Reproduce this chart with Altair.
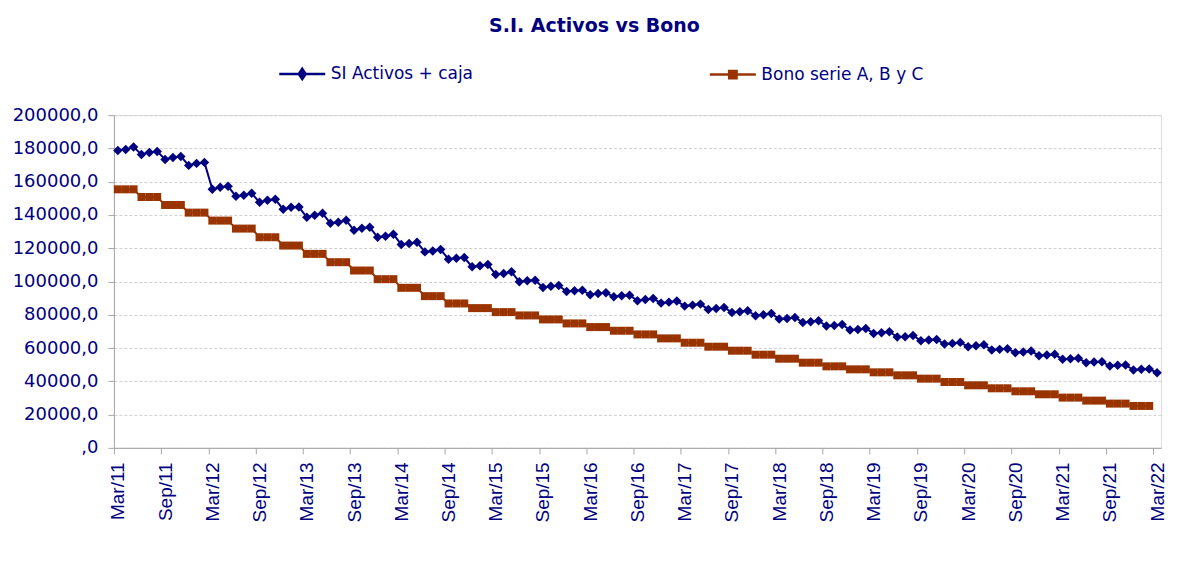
import altair as alt
import pandas as pd

# ---- data ----
series_names = ["SI Activos + caja", "Bono serie A, B y C"]
series_colors = ["#000080", "#993300"]

# monthly, Mar/11 .. Mar/22 (133 months)
si_values = [
    178800, 179400, 180800, 176400, 177600, 178200, 173400, 174600, 175200, 169800, 171000, 171600,
    155400, 156600, 157200, 151200, 151800, 153000, 147600, 148800, 149400, 143400, 144600, 144800,
    138600, 139800, 141000, 135000, 135600, 136800, 130800, 132000, 132600, 126600, 127200, 128400,
    122200, 122800, 123600, 117800, 118400, 119200, 113400, 114000, 114400, 108800, 109400, 110200,
    104200, 104800, 105800, 99800, 100400, 100800, 96400, 97200, 97600, 94000, 94400, 94800,
    92000, 92800, 93200, 90800, 91400, 91800, 88400, 89200, 89800, 87000, 87600, 88300,
    85200, 85800, 86400, 83200, 83800, 84400, 81400, 81800, 82400, 79400, 80000, 80800,
    77400, 77800, 78400, 75400, 75800, 76400, 73200, 73600, 74200, 70800, 71200, 71800,
    68800, 69200, 69800, 66600, 66800, 67600, 64400, 64800, 65200, 62400, 62800, 63400,
    60800, 61400, 62000, 58800, 59200, 59600, 57200, 57600, 58200, 55400, 55800, 56200,
    53200, 53600, 53800, 51200, 51600, 51800, 49200, 49600, 49800, 46800, 47200, 47400,
    45200,
]

# monthly, Mar/11 .. Feb/22 (132 months)
bono_values = [
    155400, 155400, 155400, 150800, 150800, 150800, 146000, 146000, 146000, 141400, 141400, 141400,
    136600, 136600, 136600, 131800, 131800, 131800, 126600, 126600, 126600, 121600, 121600, 121600,
    116600, 116600, 116600, 111600, 111600, 111600, 106600, 106600, 106600, 101400, 101400, 101400,
    96200, 96200, 96200, 91200, 91200, 91200, 86800, 86800, 86800, 84000, 84000, 84000,
    81600, 81600, 81600, 79600, 79600, 79600, 77200, 77200, 77200, 74800, 74800, 74800,
    72600, 72600, 72600, 70400, 70400, 70400, 68200, 68200, 68200, 65800, 65800, 65800,
    63200, 63200, 63200, 60800, 60800, 60800, 58400, 58400, 58400, 56000, 56000, 56000,
    53600, 53600, 53600, 51200, 51200, 51200, 49000, 49000, 49000, 47200, 47200, 47200,
    45400, 45400, 45400, 43600, 43600, 43600, 41600, 41600, 41600, 39600, 39600, 39600,
    37600, 37600, 37600, 35800, 35800, 35800, 34000, 34000, 34000, 32200, 32200, 32200,
    30200, 30200, 30200, 28400, 28400, 28400, 26600, 26600, 26600, 25200, 25200, 25200,
]

tick_labels = [
    "Mar/11", "Sep/11", "Mar/12", "Sep/12", "Mar/13", "Sep/13", "Mar/14", "Sep/14",
    "Mar/15", "Sep/15", "Mar/16", "Sep/16", "Mar/17", "Sep/17", "Mar/18", "Sep/18",
    "Mar/19", "Sep/19", "Mar/20", "Sep/20", "Mar/21", "Sep/21", "Mar/22",
]
y_ticks = [0, 20000, 40000, 60000, 80000, 100000, 120000, 140000, 160000, 180000, 200000]

rows = []
for i, v in enumerate(si_values):
    rows.append({"idx": i, "value": v, "series": series_names[0]})
for i, v in enumerate(bono_values):
    rows.append({"idx": i, "value": v, "series": series_names[1]})
df = pd.DataFrame(rows)

NAVY = "#000080"
AXIS_GRAY = "#a6a6a6"
W, H = 1048, 333
n_months = len(si_values)
half = W / n_months / 2

label_array = "[" + ",".join("'" + t + "'" for t in tick_labels) + "]"

x_enc = alt.X(
    "idx:Q",
    scale=alt.Scale(domain=[-0.5, n_months - 0.5], nice=False, zero=False),
    axis=alt.Axis(
        values=list(range(0, n_months, 6)),
        labelExpr=label_array + "[round(datum.value / 6)]",
        labelAngle=270,
        labelFont="Liberation Sans",
        labelFontSize=19,
        labelColor=NAVY,
        labelPadding=8,
        tickOffset=-half,
        labelOffset=half,
        tickSize=6,
        tickColor=AXIS_GRAY,
        domainColor=AXIS_GRAY,
        grid=False,
        title=None,
        labelOverlap=False,
        labelBound=False,
    ),
)
y_enc = alt.Y(
    "value:Q",
    scale=alt.Scale(domain=[0, 200000], nice=False, zero=True),
    axis=alt.Axis(
        values=y_ticks,
        labelExpr="datum.value == 0 ? ',0' : format(datum.value, 'd') + ',0'",
        labelFont="DejaVu Sans",
        labelFontSize=18,
        labelColor=NAVY,
        labelPadding=10,
        tickSize=6,
        tickColor=AXIS_GRAY,
        domainColor=AXIS_GRAY,
        grid=True,
        gridColor="#cfcfcf",
        gridDash=[3, 2],
        gridWidth=1,
        title=None,
        labelOverlap=False,
    ),
)

color_scale = alt.Scale(domain=series_names, range=series_colors)

base = alt.Chart(df)

legend_paths = [
    "M-1,0L1,0M0,-0.22L0.15,0L0,0.22L-0.15,0Z",
    "M-1,0L1,0M-0.16,-0.16L0.16,-0.16L0.16,0.16L-0.16,0.16Z",
]

def make_legend():
    return alt.Legend(
        title=None,
        orient="none",
        legendX=164,
        legendY=-66,
        direction="horizontal",
        columns=2,
        columnPadding=231,
        padding=0,
        symbolSize=2116,
        symbolStrokeWidth=2.5,
        symbolOpacity=1,
        labelFont="DejaVu Sans",
        labelFontSize=17,
        labelColor=NAVY,
        labelOffset=4,
        labelLimit=400,
    )

# invisible layer that only carries the legend (line + marker symbols); first so its legend wins
legend_layer = base.mark_point(filled=True, opacity=0).encode(
    x=x_enc, y=y_enc,
    color=alt.Color("series:N", scale=color_scale, legend=make_legend()),
    stroke=alt.Stroke("series:N", scale=alt.Scale(domain=series_names, range=series_colors), legend=make_legend()),
    shape=alt.Shape("series:N", scale=alt.Scale(domain=series_names, range=legend_paths), legend=make_legend()),
)

lines = base.mark_line(strokeWidth=2).encode(
    x=x_enc, y=y_enc,
    color=alt.Color("series:N", scale=color_scale, legend=None),
    detail="series:N",
)
si_points = base.transform_filter(
    alt.datum.series == series_names[0]
).mark_point(filled=True, shape="diamond", size=90, opacity=1).encode(
    x=x_enc, y=y_enc,
    color=alt.Color("series:N", scale=color_scale, legend=None),
)
bono_points = base.transform_filter(
    alt.datum.series == series_names[1]
).mark_point(filled=True, shape="square", size=64, opacity=1).encode(
    x=x_enc, y=y_enc,
    color=alt.Color("series:N", scale=color_scale, legend=None),
)

chart = alt.layer(legend_layer, lines, bono_points, si_points).properties(
    width=W,
    height=H,
    title=alt.TitleParams(
        "S.I. Activos vs Bono",
        font="DejaVu Sans",
        fontSize=19,
        fontWeight="bold",
        color=NAVY,
        anchor="middle",
        frame="group",
        dx=-43,
        offset=13,
    ),
    autosize=alt.AutoSizeParams(type="none"),
    padding={"left": 106, "top": 107, "right": 12, "bottom": 100},
).configure_view(stroke=None).configure(background="white")

chart.save("out.html", embed_options={"renderer": "svg", "actions": False})
